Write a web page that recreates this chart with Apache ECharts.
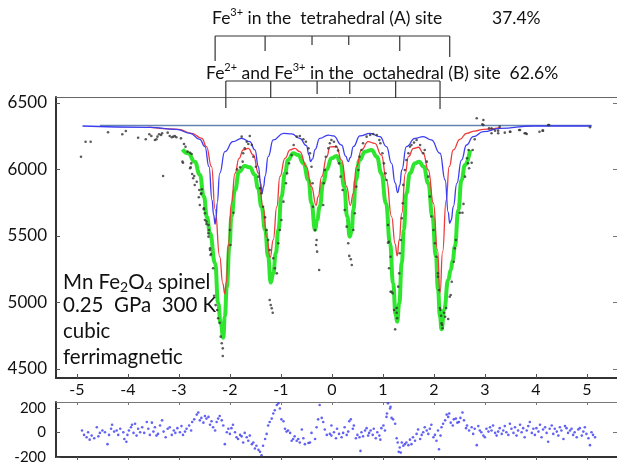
<!DOCTYPE html>
<html>
<head>
<meta charset="utf-8">
<script src="https://cdn.jsdelivr.net/npm/echarts@6/dist/echarts.min.js"></script>
<style>
html, body { margin: 0; padding: 0; background: #fff; }
#myChart { width: 617px; height: 465px; }
</style>
</head>
<body>
<div id="myChart"></div>
<script>
// tick labels
var velTicks = [-5, -4, -3, -2, -1, 0, 1, 2, 3, 4, 5];
var countTicks = [4500, 5000, 5500, 6000, 6500];
var resTicks = [-200, 0, 200];

// line positions of the two sextets (mm/s) and stick heights
var tetraPos = [-2.29, -1.31, -0.39, 0.33, 1.33, 2.31];
var tetraStick = [25, 15, 9, 9, 15, 21];
var octaPos = [-2.08, -1.20, -0.29, 0.35, 1.25, 2.12];
var octaStick = [27, 17, 13, 13, 17, 28];

// flat background line
var baseLine = [[-4.55, 6330], [5.09, 6330]];

// measured counts
var counts = [
  [-4.92, 6096], [-4.83, 6209], [-4.73, 6209], [-4.39, 6280], [-4.11, 6265], [-4.04, 6289], [-3.80, 6239],
  [-3.65, 6227], [-3.58, 6265], [-3.54, 6252], [-3.47, 6222], [-3.44, 6227], [-3.42, 6247], [-3.39, 6265],
  [-3.35, 6259], [-3.33, 6272], [-3.31, 5951], [-3.22, 6277], [-3.18, 6252], [-3.14, 6242], [-3.11, 6247],
  [-3.08, 6252], [-3.05, 6242], [-2.96, 6234],
  [-2.93, 6059], [-2.92, 6051], [-2.90, 6192], [-2.87, 6171], [-2.83, 6134], [-2.78, 6126], [-2.75, 6116],
  [-2.77, 6016], [-2.76, 6046], [-2.78, 6009], [-2.74, 5966], [-2.72, 5934], [-2.70, 5951], [-2.69, 5883],
  [-2.65, 5908], [-2.60, 5846], [-2.61, 5791], [-2.57, 5816], [-2.55, 5851], [-2.59, 5733], [-2.56, 5821],
  [-2.51, 5708], [-2.51, 5701], [-2.49, 5671], [-2.49, 5620], [-2.46, 5608], [-2.46, 5590], [-2.42, 5583],
  [-2.42, 5520], [-2.42, 5495], [-2.41, 5545], [-2.39, 5407], [-2.39, 5395], [-2.38, 5357], [-2.37, 5364],
  [-2.33, 5257], [-2.31, 5050], [-2.28, 4980],
  [-2.25, 4943], [-2.23, 4881], [-2.20, 4848], [-2.18, 4743], [-2.16, 4693], [-2.14, 4655], [-2.14, 4597],
  [-2.00, 5545], [-1.99, 5432], [-1.93, 5675], [-1.86, 6001], [-1.80, 6016], [-1.75, 6059], [-1.74, 6122],
  [-1.71, 6159], [-1.67, 6209], [-1.64, 6192], [-1.61, 6252], [-1.77, 6247], [-1.57, 6184],
  [-1.54, 6096], [-1.49, 6021], [-1.44, 5946], [-1.41, 5859], [-1.38, 5821], [-1.35, 5720], [-1.31, 5640],
  [-1.28, 5545], [-1.25, 5470], [-1.22, 5395], [-1.15, 5332], [-1.12, 5257], [-1.08, 5219], [-1.22, 5019],
  [-1.20, 4981], [-1.18, 4956], [-1.16, 4923],
  [-1.05, 5445], [-1.02, 5545], [-0.99, 5620], [-0.95, 5758], [-0.90, 5896], [-0.88, 5971], [-0.84, 6046],
  [-0.79, 6109], [-0.75, 6184], [-0.69, 6247], [-0.63, 6252], [-0.56, 6227], [-0.51, 6209], [-0.46, 6159],
  [-0.43, 6122],
  [-0.40, 6021], [-0.38, 5896], [-0.37, 5720], [-0.33, 5545], [-0.30, 5470], [-0.31, 5432], [-0.29, 5382],
  [-0.25, 5244],
  [-0.17, 5733], [-0.16, 5896], [-0.14, 5996], [-0.12, 6096], [-0.07, 6159], [-0.04, 6197], [-0.01, 6222],
  [0.04, 6209], [0.08, 6172], [0.12, 6142], [0.14, 6046], [0.17, 5946], [0.21, 5846], [0.25, 5695], [0.29, 5570],
  [0.32, 5445], [0.34, 5350], [0.37, 5325], [0.39, 5282],
  [0.42, 5545], [0.45, 5671], [0.48, 5871], [0.52, 5996], [0.54, 6096], [0.58, 6147], [0.61, 6197], [0.68, 6247],
  [0.75, 6259], [0.81, 6267], [0.88, 6259], [0.93, 6222], [0.95, 6197], [0.99, 6122], [1.02, 6046], [1.05, 5971],
  [1.07, 5921], [1.10, 5583], [1.10, 5449], [1.12, 5457], [1.12, 5257], [1.15, 5344], [1.15, 5081], [1.17, 5081],
  [1.19, 5069], [1.22, 4943], [1.24, 4798], [1.27, 4958], [1.27, 4923], [1.28, 4881], [1.30, 5119], [1.32, 5219],
  [1.33, 5370], [1.35, 5470], [1.37, 5633], [1.39, 5746], [1.40, 5884], [1.43, 5996], [1.46, 6071], [1.50, 6122],
  [1.53, 6172], [1.56, 6184], [1.61, 6202], [1.66, 6222], [1.73, 6184], [1.79, 6122], [1.82, 6147], [1.86, 6059],
  [1.89, 5946], [1.92, 5796], [1.95, 5646], [1.99, 5545], [2.02, 5445], [2.05, 5344], [2.08, 5219], [2.08, 5194],
  [2.10, 5094], [2.12, 4958], [2.13, 4943], [2.14, 4900], [2.15, 4843], [2.16, 4830], [2.17, 4806], [2.20, 4923],
  [2.22, 4893], [2.24, 4958], [2.28, 4876], [2.31, 5043], [2.33, 5056], [2.35, 5156], [2.39, 5306], [2.41, 5407],
  [2.43, 5470],
  [2.51, 5675], [2.56, 5675], [2.58, 5741], [2.61, 5946], [2.69, 6009], [2.67, 6046], [2.74, 6051], [2.65, 6084],
  [2.68, 6147], [2.76, 6147], [2.80, 6227], [2.84, 6385], [2.97, 6372], [2.97, 6335], [2.95, 6340], [3.08, 6309],
  [3.13, 6272], [3.13, 6309], [3.20, 6292], [3.26, 6292], [3.26, 6272], [3.29, 6322], [3.39, 6277], [3.49, 6284],
  [3.50, 6284], [3.67, 6297], [3.69, 6297], [3.78, 6272], [3.80, 6272], [3.82, 6267], [4.07, 6284], [4.13, 6292],
  [4.14, 6292], [4.24, 6335], [4.26, 6335], [5.06, 6317]
];

// fitted sub-spectra
var sextetA = [
  [-4.89, 6327], [-3.57, 6317], [-3.05, 6302], [-2.78, 6272], [-2.59, 6227], [-2.49, 6172], [-2.41, 6021],
  [-2.35, 5770], [-2.32, 5660], [-2.29, 5590], [-2.27, 5640], [-2.25, 5746], [-2.20, 5971], [-2.10, 6134],
  [-1.94, 6209], [-1.77, 6234], [-1.61, 6209], [-1.51, 6147], [-1.44, 6021], [-1.40, 5900], [-1.37, 5825],
  [-1.34, 5870], [-1.31, 5950], [-1.25, 6096], [-1.15, 6222], [-0.95, 6272], [-0.79, 6267], [-0.63, 6234],
  [-0.50, 6180], [-0.45, 6110], [-0.42, 6060], [-0.38, 6080], [-0.33, 6150], [-0.24, 6234], [-0.07, 6259],
  [0.03, 6252], [0.19, 6184], [0.27, 6100], [0.32, 6059], [0.36, 6090], [0.42, 6172], [0.55, 6252],
  [0.75, 6272], [0.94, 6247], [1.07, 6172], [1.17, 6046], [1.24, 5900], [1.29, 5826], [1.33, 5880],
  [1.37, 5996], [1.46, 6172], [1.63, 6234], [1.79, 6247], [1.95, 6222], [2.12, 6122], [2.22, 5921],
  [2.28, 5680], [2.31, 5595], [2.34, 5620], [2.38, 5720], [2.45, 5896], [2.54, 6071], [2.64, 6184],
  [2.77, 6247], [2.97, 6284], [3.29, 6309], [3.95, 6327], [5.09, 6327]
];
var sextetB = [
  [-3.60, 6318], [-3.01, 6302], [-2.75, 6272], [-2.55, 6234], [-2.46, 6172], [-2.36, 6021], [-2.29, 5700],
  [-2.20, 5344], [-2.14, 5144], [-2.10, 5065], [-2.07, 5150], [-2.03, 5440], [-1.97, 5746], [-1.90, 5971],
  [-1.82, 6084], [-1.74, 6147], [-1.64, 6159], [-1.54, 6109], [-1.44, 5971], [-1.35, 5720], [-1.28, 5495],
  [-1.21, 5340], [-1.15, 5470], [-1.08, 5720], [-1.02, 5946], [-0.92, 6084], [-0.82, 6147], [-0.73, 6159],
  [-0.63, 6134], [-0.50, 6021], [-0.40, 5871], [-0.31, 5730], [-0.27, 5796], [-0.20, 5946], [-0.10, 6096],
  [-0.04, 6170], [0.09, 6172], [0.19, 6071], [0.29, 5871], [0.36, 5730], [0.42, 5821], [0.48, 6021],
  [0.58, 6147], [0.71, 6209], [0.84, 6197], [0.97, 6109], [1.07, 5921], [1.17, 5646], [1.24, 5440],
  [1.28, 5350], [1.32, 5470], [1.37, 5671], [1.44, 5971], [1.50, 6096], [1.60, 6159], [1.70, 6167],
  [1.79, 6122], [1.89, 5996], [1.99, 5746], [2.07, 5395], [2.12, 5072], [2.17, 5380], [2.24, 5770],
  [2.30, 6021], [2.38, 6147], [2.51, 6227], [2.64, 6272], [2.80, 6289], [2.97, 6302], [3.30, 6315]
];
var fitTotal = [
  [-2.93, 6152], [-2.82, 6122], [-2.69, 6059], [-2.59, 5960], [-2.51, 5796], [-2.45, 5640], [-2.39, 5520],
  [-2.29, 5295], [-2.23, 4994], [-2.18, 4843], [-2.13, 4735], [-2.10, 4893], [-2.06, 5119], [-2.01, 5420],
  [-1.97, 5646], [-1.90, 5846], [-1.82, 5984], [-1.71, 6026], [-1.61, 6016], [-1.51, 5959], [-1.45, 5859],
  [-1.38, 5720], [-1.31, 5545], [-1.25, 5344], [-1.20, 5150], [-1.15, 5219], [-1.10, 5370], [-1.05, 5545],
  [-0.99, 5796], [-0.92, 5971], [-0.86, 6071], [-0.76, 6122], [-0.66, 6109], [-0.56, 6046], [-0.46, 5921],
  [-0.40, 5746], [-0.33, 5545], [-0.29, 5620], [-0.24, 5720], [-0.17, 5900], [-0.10, 6000], [-0.01, 6084],
  [0.09, 6101], [0.17, 6046], [0.24, 5871], [0.30, 5646], [0.35, 5495], [0.39, 5545], [0.42, 5695],
  [0.47, 5921], [0.54, 6071], [0.65, 6134], [0.78, 6147], [0.88, 6096], [0.97, 5971], [1.06, 5746],
  [1.14, 5445], [1.20, 5144], [1.25, 4906], [1.28, 4855], [1.32, 4994], [1.37, 5295], [1.41, 5545],
  [1.46, 5821], [1.53, 5971], [1.63, 6046], [1.71, 6059], [1.80, 6021], [1.89, 5896], [1.97, 5646],
  [2.04, 5344], [2.08, 5094], [2.12, 4893], [2.15, 4798], [2.20, 4943], [2.28, 5169], [2.33, 5244],
  [2.37, 5320], [2.41, 5420], [2.48, 5695], [2.54, 5921], [2.61, 6034], [2.71, 6147]
];

// residuals
var residuals = [
  [-4.90, 17], [-4.86, -19], [-4.81, -39], [-4.78, 3], [-4.75, -58], [-4.71, -25], [-4.66, -47], [-4.61, 44],
  [-4.58, -31], [-4.55, -3], [-4.50, 17], [-4.45, 3], [-4.40, -95], [-4.37, -19], [-4.33, 31], [-4.31, 64],
  [-4.27, 8], [-4.22, 17], [-4.19, -19], [-4.15, 31], [-4.09, 3], [-4.07, -53], [-4.03, -75], [-4.01, -19],
  [-3.98, 17], [-3.94, 44], [-3.92, 64], [-3.89, -3], [-3.86, 72], [-3.83, -25], [-3.80, 31], [-3.76, 3],
  [-3.72, 44], [-3.68, -3], [-3.63, 86], [-3.60, 31], [-3.57, -19], [-3.53, 81], [-3.50, 8], [-3.47, 44],
  [-3.44, -25], [-3.41, -11], [-3.37, 58], [-3.33, 100], [-3.30, 8], [-3.26, -39], [-3.22, 31], [-3.18, 44],
  [-3.14, -19], [-3.10, 17], [-3.07, -3], [-3.03, 36], [-2.98, 3], [-2.95, 53], [-2.92, -19], [-2.88, 8],
  [-2.85, 31], [-2.80, 58], [-2.76, 17], [-2.74, 86], [-2.70, 108], [-2.65, 147], [-2.62, 164], [-2.59, 100],
  [-2.56, 120], [-2.52, 81], [-2.49, 136], [-2.46, 114], [-2.42, 128], [-2.39, 64], [-2.36, 92], [-2.33, 44],
  [-2.29, 17], [-2.26, 86], [-2.23, 114], [-2.20, 136], [-2.16, 100], [-2.13, 58], [-2.10, -95], [-2.06, 3],
  [-2.03, 31], [-2.00, -11], [-1.97, 36], [-1.94, 64], [-1.90, 3], [-1.87, -39], [-1.84, -53], [-1.80, -19],
  [-1.77, -31], [-1.74, -81], [-1.71, -3], [-1.67, -39], [-1.64, -67], [-1.61, -25], [-1.57, -95], [-1.54, -81],
  [-1.51, -131], [-1.48, -108], [-1.44, -142], [-1.41, -158], [-1.38, -186], [-1.35, -108], [-1.31, -53],
  [-1.28, -11], [-1.25, 58], [-1.22, 86], [-1.18, 114], [-1.15, 156], [-1.12, 183], [-1.08, 225], [-1.05, 239],
  [-1.02, 197], [-0.99, 108], [-0.95, 92], [-0.92, 31], [-0.89, 8], [-0.86, 17], [-0.82, -3], [-0.79, -67],
  [-0.76, -53], [-0.73, -31], [-0.69, -67], [-0.66, -53], [-0.63, -81], [-0.59, 25], [-0.56, -47], [-0.53, -95],
  [-0.46, -86], [-0.43, -81], [-0.40, -3], [-0.33, -53], [-0.30, 44], [-0.27, 108], [-0.24, 225], [-0.20, 120],
  [-0.17, 86], [-0.14, 25], [-0.10, -19], [-0.04, -11], [-0.01, 58],
  [-0.01, -25], [0.04, 3], [0.08, -47], [0.10, 31], [0.14, -11], [0.19, -39], [0.22, -3], [0.25, 44], [0.29, -19],
  [0.32, 8], [0.34, 92], [0.37, 108], [0.41, 31], [0.43, 58], [0.47, -47], [0.50, -19], [0.54, -39], [0.56, -150],
  [0.58, 3], [0.61, -31], [0.65, 17], [0.68, 36], [0.71, -25], [0.73, -3], [0.76, 17], [0.80, -19], [0.82, 31],
  [0.86, -47], [0.89, 3], [0.93, -25], [0.95, -58], [0.97, 36], [1.01, 58], [1.04, 17], [1.07, 128], [1.08, 156],
  [1.10, 239], [1.14, 197], [1.15, 211], [1.17, 120], [1.20, 108], [1.24, 72], [1.27, -47], [1.29, -81],
  [1.31, -158], [1.33, -122], [1.35, -164], [1.37, -81], [1.40, -108], [1.43, -95], [1.46, -81], [1.50, -103],
  [1.53, -58], [1.56, -95], [1.59, -39], [1.63, -67], [1.66, -11], [1.69, 25], [1.73, -53], [1.76, -19],
  [1.79, 3], [1.82, 44], [1.86, 17], [1.89, -11], [1.92, 31], [1.95, 64], [1.99, -39], [2.02, -19], [2.05, -67],
  [2.08, 17], [2.10, -136], [2.13, -25], [2.15, 44], [2.18, 72], [2.22, 100], [2.25, 147], [2.28, 128],
  [2.30, 156], [2.33, 81], [2.37, 58], [2.39, 108], [2.43, 114], [2.46, 81], [2.49, 86], [2.52, 120], [2.56, 164],
  [2.59, 100], [2.63, 36], [2.65, 58], [2.69, 17], [2.74, 44], [2.77, -11], [2.80, 31], [2.84, -103], [2.87, 53],
  [2.90, 17], [2.93, 3], [2.97, -25], [3.00, -39], [3.03, 31], [3.07, 8], [3.10, 44], [3.13, 17], [3.16, 58],
  [3.20, -3], [3.23, -25], [3.26, 8], [3.29, 36], [3.33, -11], [3.36, 17], [3.39, 53], [3.42, 3], [3.46, -19],
  [3.49, 72], [3.52, 31], [3.56, -3], [3.59, 44], [3.62, -25], [3.65, 17], [3.69, 64], [3.72, 3], [3.75, 36],
  [3.78, -39], [3.82, 17], [3.85, 53], [3.88, 86], [3.92, -3], [3.95, 31], [3.98, -19], [4.01, 36], [4.05, 8],
  [4.08, 64], [4.11, -39], [4.14, 25], [4.18, 44], [4.21, -3], [4.24, -75], [4.27, 31], [4.31, 58], [4.34, -11],
  [4.37, 31], [4.41, 8], [4.44, -25], [4.47, 44], [4.50, 17], [4.54, -53], [4.57, 53], [4.60, 36], [4.63, -3],
  [4.67, 17], [4.70, 31], [4.73, -19], [4.76, 3], [4.80, -39], [4.83, 25], [4.86, 36], [4.90, -25], [4.93, 8],
  [4.96, 44], [4.99, -11], [5.03, -47], [5.06, -103], [5.09, 3], [5.12, -19], [5.16, -39]
];

var FONT = 'Lato, "Liberation Sans", sans-serif';
var X_MIN = -5.41, X_MAX = 5.59;

_initChart();

function bracket(pos, sticks, level) {
    return {
        type: 'custom',
        xAxisIndex: 4,
        yAxisIndex: 4,
        silent: true,
        data: [[pos[0], level]],
        renderItem: function (params, api) {
            var y0 = api.coord([0, level])[1];
            var xs = pos.map(function (p) { return api.coord([p, level])[0]; });
            var st = { stroke: '#333', lineWidth: 1.2 };
            var kids = [{ type: 'line', shape: { x1: xs[0], y1: y0, x2: xs[xs.length - 1], y2: y0 }, style: st }];
            xs.forEach(function (x, i) {
                var y1 = api.coord([pos[i], level + sticks[i]])[1];
                kids.push({ type: 'line', shape: { x1: x, y1: y0, x2: x, y2: y1 }, style: st });
            });
            return { type: 'group', children: kids };
        }
    };
}

function label(x, y, text, rich) {
    return {
        type: 'text', x: x, y: y, z: 100, silent: true,
        style: { text: text, rich: rich, verticalAlign: 'middle', fill: '#111' }
    };
}

function plain(v) { return String(v); }

function _initChart() {
    var myChart = echarts.init(document.getElementById('myChart'));
    var topRich = {
        a: { fontSize: 17.5, fontFamily: FONT, color: '#222', lineHeight: 22 },
        s: { fontSize: 11, fontFamily: FONT, color: '#222', verticalAlign: 'top', lineHeight: 22, padding: [0, 0, 9, 0] }
    };
    var boxRich = {
        a: { fontSize: 20.5, fontFamily: FONT, color: '#111', lineHeight: 24 },
        b: { fontSize: 14, fontFamily: FONT, color: '#111', verticalAlign: 'bottom', lineHeight: 24, padding: [6, 0, 0, 0] }
    };
    var option = {
        animation: false,
        backgroundColor: '#fff',
        grid: [
            { left: 56, top: 97, width: 561, height: 281 },
            { left: 56, top: 402, width: 561, height: 55 },
            { left: 56, top: 0, width: 561, height: 120 }
        ],
        xAxis: [
            {
                gridIndex: 0, type: 'value', min: X_MIN, max: X_MAX,
                axisLine: { onZero: false, lineStyle: { color: '#333', width: 2 } },
                axisTick: { inside: true, length: 4, customValues: velTicks, lineStyle: { color: '#555' } },
                axisLabel: { customValues: velTicks, fontSize: 16, fontFamily: FONT, color: '#111', margin: 4, formatter: plain },
                splitLine: { show: false }
            },
            {
                gridIndex: 0, type: 'value', position: 'top', min: X_MIN, max: X_MAX,
                axisLine: { onZero: false, lineStyle: { color: '#666', width: 1 } },
                axisTick: { show: false }, axisLabel: { show: false }, splitLine: { show: false }
            },
            {
                gridIndex: 1, type: 'value', min: X_MIN, max: X_MAX,
                axisLine: { onZero: false, lineStyle: { color: '#333', width: 2 } },
                axisTick: { length: 3, customValues: velTicks, lineStyle: { color: '#555' } },
                axisLabel: { show: false }, splitLine: { show: false }
            },
            {
                gridIndex: 1, type: 'value', position: 'top', min: X_MIN, max: X_MAX,
                axisLine: { onZero: false, lineStyle: { color: '#777', width: 1 } },
                axisTick: { inside: true, length: 3, customValues: velTicks, lineStyle: { color: '#777' } },
                axisLabel: { show: false }, splitLine: { show: false }
            },
            { gridIndex: 2, type: 'value', min: X_MIN, max: X_MAX, show: false }
        ],
        yAxis: [
            {
                gridIndex: 0, type: 'value', min: 4432, max: 6545,
                axisLine: { show: true, onZero: false, lineStyle: { color: '#333', width: 2 } },
                axisTick: { show: true, inside: true, length: 4, customValues: countTicks, lineStyle: { color: '#555' } },
                axisLabel: { customValues: countTicks, fontSize: 17, fontFamily: FONT, color: '#111', margin: 9, formatter: plain },
                splitLine: { show: false }
            },
            {
                gridIndex: 0, type: 'value', position: 'right', min: 4432, max: 6545,
                axisLine: { show: false, onZero: false },
                axisTick: { show: true, inside: true, length: 4, customValues: countTicks, lineStyle: { color: '#777' } },
                axisLabel: { show: false }, splitLine: { show: false }
            },
            {
                gridIndex: 1, type: 'value', min: -200, max: 250,
                axisLine: { show: true, onZero: false, lineStyle: { color: '#333', width: 2 } },
                axisTick: { show: true, inside: true, length: 4, customValues: resTicks, lineStyle: { color: '#555' } },
                axisLabel: { customValues: resTicks, fontSize: 15, fontFamily: FONT, color: '#111', margin: 10, formatter: plain },
                splitLine: { show: false }
            },
            {
                gridIndex: 1, type: 'value', position: 'right', min: -200, max: 250,
                axisLine: { show: false, onZero: false },
                axisTick: { show: true, inside: true, length: 4, customValues: [0], lineStyle: { color: '#777' } },
                axisLabel: { show: false }, splitLine: { show: false }
            },
            { gridIndex: 2, type: 'value', min: 0, max: 120, inverse: true, show: false }
        ],
        graphic: [
            label(212, 18, '{a|Fe}{s|3+}{a| in the  tetrahedral (A) site}', topRich),
            label(492, 18, '{a|37.4%}', topRich),
            label(206, 73, '{a|Fe}{s|2+}{a| and Fe}{s|3+}{a| in the  octahedral (B) site  62.6%}', topRich),
            label(63, 282, '{a|Mn Fe}{b|2}{a|O}{b|4}{a| spinel}', boxRich),
            label(63, 305, '{a|0.25  GPa  300 K}', boxRich),
            label(63, 331, '{a|cubic}', boxRich),
            label(63, 357, '{a|ferrimagnetic}', boxRich)
        ],
        series: [
            {
                type: 'line', xAxisIndex: 0, yAxisIndex: 0, data: baseLine, symbol: 'none', z: 2,
                lineStyle: { color: '#6383b3', width: 1.5 }
            },
            {
                type: 'line', xAxisIndex: 0, yAxisIndex: 0, data: fitTotal, symbol: 'none', z: 3,
                smooth: 0.5, smoothMonotone: 'x',
                lineStyle: { color: '#2fe62f', width: 4 }
            },
            {
                type: 'line', xAxisIndex: 0, yAxisIndex: 0, data: sextetB, symbol: 'none', z: 4,
                smooth: 0.5, smoothMonotone: 'x',
                lineStyle: { color: '#ee3a3a', width: 1.3 }
            },
            {
                type: 'line', xAxisIndex: 0, yAxisIndex: 0, data: sextetA, symbol: 'none', z: 5,
                smooth: 0.5, smoothMonotone: 'x',
                lineStyle: { color: '#3c3cf0', width: 1.3 }
            },
            {
                type: 'scatter', xAxisIndex: 0, yAxisIndex: 0, data: counts, symbolSize: 2.6, z: 6,
                itemStyle: { color: '#333' }
            },
            {
                type: 'scatter', xAxisIndex: 2, yAxisIndex: 2, data: residuals, symbolSize: 2.6,
                itemStyle: { color: '#3c3cf0' }
            },
            bracket(tetraPos, tetraStick, 36),
            bracket(octaPos, octaStick, 81)
        ]
    };
    myChart.setOption(option);
}
</script>
</body>
</html>
